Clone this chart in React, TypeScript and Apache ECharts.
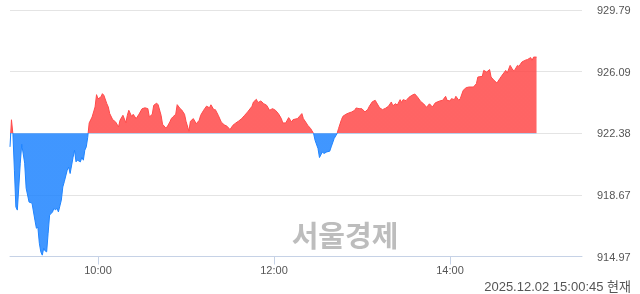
import React, { useEffect, useRef } from "react";
import * as echarts from "echarts";

// [minutes since 09:00, index value]
const priceSeries: [number, number][] = [
  [0, 921.56], [1, 923.19], [2, 922.32], [3, 920.16], [4, 917.95], [5, 917.76], [6, 919.15], [7, 920.58],
  [8, 921.72], [10, 920.58], [11, 919.08], [13, 918.24], [15, 918.18], [17, 917.15], [18, 916.67], [19, 916.73],
  [20, 915.77], [21, 915.25], [22, 915.05], [23, 915.47], [24, 915.3], [25, 915.25], [26, 916.37], [27, 917.46],
  [29, 917.65], [30, 917.88], [31, 917.76], [32, 917.88], [33, 917.65], [35, 918.36], [36, 919.15], [37, 919.46],
  [39, 920.16], [40, 920.34], [41, 919.96], [43, 920.94], [44, 921.36], [45, 920.66], [46, 920.76], [48, 920.66],
  [49, 920.94], [50, 920.76], [51, 921.36], [52, 921.56], [53, 922.14], [54, 923.0], [56, 923.36], [58, 923.96],
  [59, 924.7], [60, 924.45], [62, 924.56], [63, 924.76], [64, 924.66], [66, 924.16], [67, 923.96], [68, 923.56],
  [70, 923.2], [72, 923.06], [74, 922.76], [75, 923.16], [77, 923.46], [79, 923.01], [80, 923.46], [81, 923.76],
  [83, 923.38], [84, 923.52], [86, 923.26], [88, 923.53], [90, 923.85], [92, 923.91], [94, 923.86], [95, 923.36],
  [97, 923.52], [98, 924.06], [100, 924.19], [101, 924.09], [103, 923.46], [104, 922.92], [106, 922.72], [107, 922.74],
  [109, 923.06], [110, 923.26], [111, 923.36], [113, 923.52], [114, 924.1], [116, 923.86], [117, 923.79], [119, 923.52],
  [120, 923.1], [122, 922.5], [123, 923.1], [125, 923.26], [127, 922.95], [129, 923.16], [130, 923.46], [132, 923.76],
  [134, 924.01], [136, 923.91], [137, 924.09], [139, 923.79], [140, 923.8], [142, 923.46], [144, 923.06], [146, 922.89],
  [148, 922.8], [150, 922.6], [152, 922.86], [154, 923.0], [156, 923.12], [158, 923.26], [160, 923.46], [162, 923.66],
  [165, 924.0], [166, 924.26], [168, 924.42], [169, 924.22], [171, 924.32], [173, 924.16], [175, 924.06], [177, 923.76],
  [179, 923.86], [181, 923.76], [183, 923.56], [185, 923.26], [186, 923.0], [188, 923.0], [189, 923.16], [190, 923.32],
  [192, 923.06], [193, 923.2], [196, 923.26], [197, 923.36], [199, 923.56], [200, 923.26], [202, 923.0], [203, 922.86],
  [205, 922.66], [207, 922.36], [208, 921.96], [210, 921.46], [211, 920.92], [213, 921.26], [214, 921.16], [216, 921.26],
  [218, 921.3], [219, 921.56], [221, 922.06], [223, 922.36], [224, 922.66], [226, 923.2], [227, 923.4], [229, 923.52],
  [231, 923.6], [233, 923.66], [235, 923.76], [236, 923.9], [238, 923.86], [240, 923.85], [242, 923.66], [244, 923.82],
  [245, 924.0], [247, 924.27], [249, 924.36], [250, 924.21], [252, 923.91], [254, 923.8], [256, 923.88], [258, 924.0],
  [260, 924.26], [261, 924.03], [263, 924.16], [264, 924.06], [266, 924.4], [267, 924.23], [268, 924.4], [270, 924.34],
  [272, 924.54], [274, 924.66], [276, 924.74], [278, 924.54], [280, 924.29], [282, 924.15], [284, 923.94], [286, 924.15],
  [288, 923.96], [290, 924.21], [293, 924.32], [295, 924.36], [297, 924.6], [298, 924.36], [300, 924.32], [301, 924.46],
  [303, 924.4], [304, 924.6], [306, 924.36], [307, 924.46], [309, 924.96], [311, 925.12], [313, 925.16], [316, 925.16],
  [318, 925.36], [319, 925.76], [322, 925.8], [323, 926.16], [325, 926.06], [327, 926.21], [328, 925.76], [330, 925.56],
  [332, 925.4], [334, 925.67], [335, 925.8], [338, 926.16], [339, 926.0], [341, 926.46], [343, 926.16], [344, 926.16],
  [346, 926.46], [347, 926.4], [349, 926.66], [351, 926.76], [353, 926.82], [355, 926.93], [356, 926.76], [357, 926.96],
  [359, 926.96],
];

const baseValue = 922.38;
const yMin = 914.97;
const yMax = 929.79;
const yTickLabels = ["914.97", "918.67", "922.38", "926.09", "929.79"];
const xTickMinutes = [60, 180, 300];
const xTickLabels = ["10:00", "12:00", "14:00"];
const sessionMinutes = 390;
const watermark = "서울경제";
const timestamp = "2025.12.02 15:00:45 현재";

const FONT = '"Liberation Sans", Arial, "Noto Sans CJK KR", sans-serif';

export default function App() {
  const ref = useRef<HTMLDivElement>(null);
  useEffect(() => {
    if (!ref.current) return;
    const chart = echarts.init(ref.current, undefined, { renderer: "svg" });
    const yInterval = (yMax - yMin) / (yTickLabels.length - 1);
    chart.setOption({
      animation: false,
      grid: { left: 10, right: 58, top: 10, bottom: 37.5 },
      xAxis: {
        type: "value",
        min: 0,
        max: sessionMinutes,
        axisLine: { lineStyle: { color: "#c6d2e6", width: 1 } },
        axisTick: {
          show: true,
          customValues: xTickMinutes,
          length: 8,
          lineStyle: { color: "#c6d2e6" },
        },
        axisLabel: {
          customValues: xTickMinutes,
          formatter: (v: number) => {
            const i = xTickMinutes.indexOf(Math.round(v));
            return i >= 0 ? xTickLabels[i] : "";
          },
          color: "#555",
          fontSize: 11,
          fontFamily: FONT,
          margin: 8,
        },
        splitLine: { show: false },
      },
      yAxis: {
        type: "value",
        position: "right",
        min: yMin,
        max: yMax,
        interval: yInterval,
        axisLine: { show: false },
        axisTick: { show: false },
        splitLine: { lineStyle: { color: "#e4e4e4", width: 1 } },
        axisLabel: {
          margin: 15,
          color: "#555",
          fontSize: 11,
          fontFamily: FONT,
          formatter: (v: number) => {
            const i = Math.round((v - yMin) / yInterval);
            return yTickLabels[i] ?? "";
          },
        },
      },
      visualMap: {
        show: false,
        type: "piecewise",
        dimension: 1,
        seriesIndex: 0,
        pieces: [
          { gte: yMin - 50, lt: baseValue, color: "#1f84ff" },
          { gte: baseValue, lte: yMax + 50, color: "#ff4949" },
        ],
      },
      series: [
        {
          type: "line",
          data: priceSeries,
          showSymbol: false,
          symbol: "none",
          silent: true,
          lineStyle: { width: 1 },
          areaStyle: { origin: baseValue, opacity: 0.85 },
        },
      ],
      graphic: [
        {
          type: "text",
          x: 345,
          y: 234,
          silent: true,
          style: {
            text: watermark,
            align: "center",
            verticalAlign: "middle",
            font: 'bold 29px "Noto Sans CJK KR", sans-serif',
            fill: "#bdbdbd",
          },
        },
        {
          type: "text",
          x: 631,
          y: 286,
          silent: true,
          style: {
            text: timestamp,
            align: "right",
            verticalAlign: "middle",
            font: '13px "Liberation Sans", Arial, "Noto Sans CJK KR", sans-serif',
            fill: "#555",
          },
        },
      ],
    });
    return () => chart.dispose();
  }, []);
  return (
    <div
      ref={ref}
      style={{ position: "fixed", left: 0, top: 0, width: 640, height: 294 }}
    />
  );
}
